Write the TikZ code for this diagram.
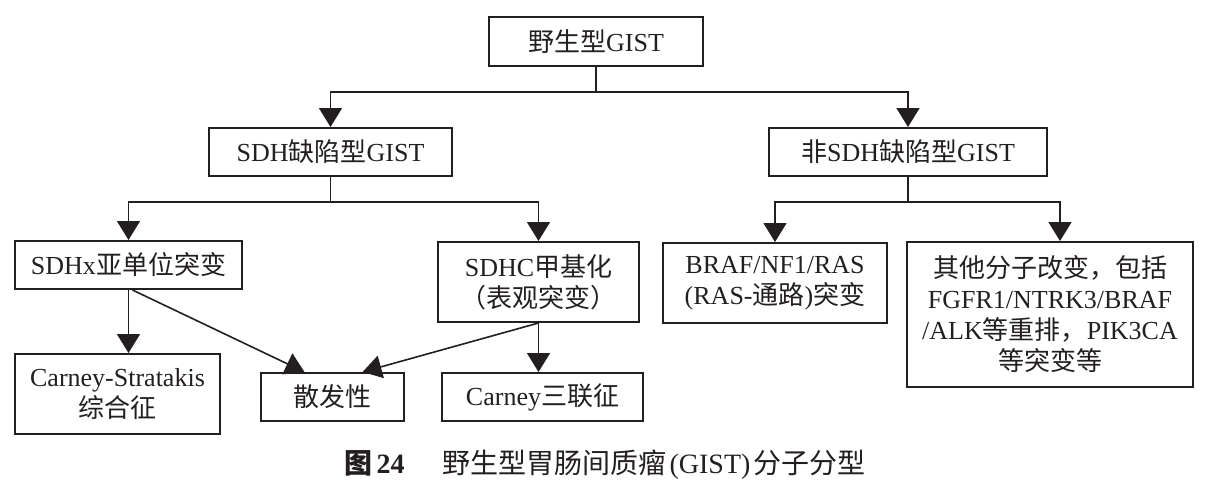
\documentclass[tikz,border=0pt]{standalone}
\usepackage{fontspec}
\setmainfont{Liberation Serif}
\newfontfamily\cjk{Noto Sans CJK SC}
\usetikzlibrary{arrows.meta}
\definecolor{ink}{HTML}{231F20}
\newcommand\zh[1]{{\cjk #1}}
\begin{document}
\begin{tikzpicture}[x=1pt,y=-1pt,
  box/.style={draw=ink, line width=2pt, inner sep=0pt, align=center, text=ink,
    font=\fontsize{26pt}{31pt}\selectfont},
  conn/.style={draw=ink, line width=1.6pt},
  arr/.style={conn, -{Triangle[width=23pt,length=19pt]}},
  captext/.style={text=ink, inner sep=0pt, font=\fontsize{28pt}{32pt}\selectfont}
]
\useasboundingbox (0,0) rectangle (1205,501);
\node[box, minimum width=214pt, minimum height=49pt] (top) at (596,41.5) {\zh{野生型}GIST};
\node[box, minimum width=243pt, minimum height=48pt] (sdh) at (330.5,152) {SDH\zh{缺陷型}GIST};
\node[box, minimum width=278pt, minimum height=48pt] (nonsdh) at (908,152) {\zh{非}SDH\zh{缺陷型}GIST};
\node[box, minimum width=227pt, minimum height=48pt] (sdhx) at (128.5,265) {SDHx\zh{亚单位突变}};
\node[box, minimum width=201pt, minimum height=80pt] (sdhc) at (538.5,282) {SDHC\zh{甲基化}\\\zh{（表观突变）}};
\node[box, minimum width=224pt, minimum height=80pt] (braf) at (775,283) {BRAF/NF1/RAS\\(RAS-\zh{通路})\zh{突变}};
\node[box, minimum width=286pt, minimum height=145pt] (other) at (1050,314.5)
  {\zh{其他分子改变，包括}\\FGFR1/NTRK3/BRAF\\/ALK\zh{等重排，}PIK3CA\\\zh{等突变等}};
\node[box, minimum width=205pt, minimum height=80pt] (cs) at (117.5,394) {Carney-Stratakis\\\zh{综合征}};
\node[box, minimum width=143pt, minimum height=48pt] (spor) at (332.5,397) {\zh{散发性}};
\node[box, minimum width=201pt, minimum height=48pt] (triad) at (542.5,397) {Carney\zh{三联征}};
\node[captext] (caption) at (605,465) {\textbf{\zh{图}\hspace{4pt}24}\hspace{38pt}\zh{野生型胃肠间质瘤}\hspace{3pt}(GIST)\hspace{3pt}\zh{分子分型}};
\coordinate (j1) at (596,92);
\coordinate (j2) at (330.5,202);
\coordinate (j3) at (908,202);
\draw[conn] (top.south) -- (j1);
\draw[arr] (j1) -| (sdh.north);
\draw[arr] (j1) -| (nonsdh.north);
\draw[conn] (sdh.south) -- (j2);
\draw[arr] (j2) -| (sdhx.north);
\draw[arr] (j2) -| (sdhc.north);
\draw[conn] (nonsdh.south) -- (j3);
\draw[arr] (j3) -| (braf.north);
\draw[arr] (j3) -| ([xshift=10pt]other.north);
\draw[arr] (sdhx.south) -- (sdhx.south |- cs.north);
\draw[arr] ([xshift=4pt]sdhx.south) -- ([xshift=-28pt]spor.north);
\draw[arr] (sdhc.south) -- ([xshift=30pt]spor.north);
\draw[arr] (sdhc.south) -- (sdhc.south |- triad.north);
\end{tikzpicture}
\end{document}
